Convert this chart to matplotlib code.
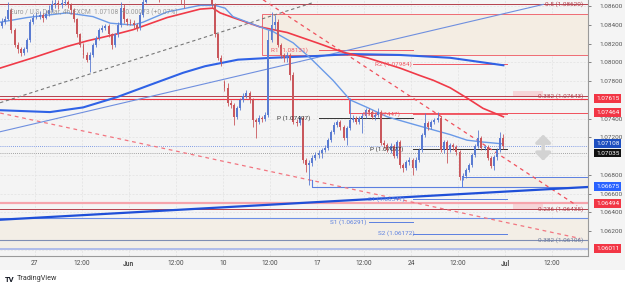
import numpy as np
import matplotlib.pyplot as plt
from matplotlib.patches import Rectangle
import matplotlib.transforms as mtransforms

plt.rcParams['font.family'] = ['Roboto', 'DejaVu Sans']

# EUR/USD 4h candles (bar index = position on the time axis)
opens = [1.0839, 1.0843, 1.0846, 1.0856, 1.0835, 1.0819, 1.0814, 1.0810, 1.0814, 1.0824,
         1.0843, 1.0848, 1.0849, 1.0851, 1.0848, 1.0852, 1.0856, 1.0862, 1.0864, 1.0861,
         1.0863, 1.0865, 1.0861, 1.0856, 1.0846, 1.0830, 1.0819, 1.0808, 1.0803, 1.0808,
         1.0819, 1.0826, 1.0835, 1.0837, 1.0839, 1.0830, 1.0819, 1.0830, 1.0840, 1.0858,
         1.0846, 1.0843, 1.0842, 1.0840, 1.0837, 1.0851, 1.0865, 1.0878, 1.0888, 1.0894,
         1.0891, 1.0883, 1.0888, 1.0899, 1.0904, 1.0899, 1.0894, 1.0888, 1.0878, 1.0872,
         1.0883, 1.0888, 1.0894, 1.0899, 1.0897, 1.0894, 1.0888, 1.0883, 1.0862, 1.0830,
         1.0805, 1.0779, 1.0773, 1.0757, 1.0755, 1.0742, 1.0751, 1.0760, 1.0764, 1.0767,
         1.0760, 1.0739, 1.0736, 1.0741, 1.0740, 1.0744, 1.0824, 1.0840, 1.0843, 1.0819,
         1.0808, 1.0805, 1.0808, 1.0787, 1.0736, 1.0735, 1.0741, 1.0696, 1.0690, 1.0693,
         1.0698, 1.0701, 1.0703, 1.0707, 1.0709, 1.0717, 1.0726, 1.0733, 1.0736, 1.0731,
         1.0719, 1.0730, 1.0739, 1.0741, 1.0736, 1.0741, 1.0743, 1.0749, 1.0747, 1.0742,
         1.0744, 1.0747, 1.0714, 1.0712, 1.0707, 1.0711, 1.0700, 1.0715, 1.0690, 1.0687,
         1.0694, 1.0696, 1.0687, 1.0696, 1.0707, 1.0723, 1.0735, 1.0731, 1.0736, 1.0739,
         1.0741, 1.0707, 1.0715, 1.0707, 1.0712, 1.0710, 1.0704, 1.0678, 1.0679, 1.0685,
         1.0690, 1.0701, 1.0711, 1.0719, 1.0709, 1.0710, 1.0698, 1.0689, 1.0699, 1.0707,
         1.0719]
highs = [1.0848, 1.0850, 1.0865, 1.0858, 1.0837, 1.0822, 1.0816, 1.0816, 1.0826, 1.0846,
         1.0852, 1.0854, 1.0855, 1.0853, 1.0856, 1.0861, 1.0867, 1.0869, 1.0867, 1.0868,
         1.0870, 1.0867, 1.0863, 1.0858, 1.0848, 1.0832, 1.0821, 1.0811, 1.0811, 1.0821,
         1.0828, 1.0837, 1.0840, 1.0841, 1.0841, 1.0832, 1.0832, 1.0843, 1.0865, 1.0862,
         1.0848, 1.0846, 1.0845, 1.0842, 1.0854, 1.0869, 1.0881, 1.0892, 1.0897, 1.0896,
         1.0893, 1.0891, 1.0902, 1.0908, 1.0907, 1.0901, 1.0896, 1.0891, 1.0880, 1.0885,
         1.0892, 1.0897, 1.0902, 1.0901, 1.0899, 1.0896, 1.0891, 1.0885, 1.0864, 1.0832,
         1.0808, 1.0781, 1.0778, 1.0760, 1.0757, 1.0754, 1.0762, 1.0767, 1.0771, 1.0770,
         1.0762, 1.0741, 1.0744, 1.0743, 1.0747, 1.0835, 1.0854, 1.0851, 1.0846, 1.0821,
         1.0810, 1.0811, 1.0810, 1.0790, 1.0740, 1.0743, 1.0743, 1.0698, 1.0696, 1.0701,
         1.0704, 1.0707, 1.0709, 1.0712, 1.0719, 1.0728, 1.0736, 1.0739, 1.0739, 1.0733,
         1.0732, 1.0762, 1.0744, 1.0743, 1.0743, 1.0746, 1.0751, 1.0751, 1.0749, 1.0746,
         1.0751, 1.0749, 1.0717, 1.0714, 1.0714, 1.0713, 1.0717, 1.0717, 1.0693, 1.0696,
         1.0699, 1.0698, 1.0699, 1.0709, 1.0725, 1.0746, 1.0738, 1.0739, 1.0741, 1.0747,
         1.0743, 1.0717, 1.0717, 1.0714, 1.0714, 1.0712, 1.0707, 1.0682, 1.0687, 1.0693,
         1.0703, 1.0713, 1.0728, 1.0721, 1.0712, 1.0712, 1.0700, 1.0701, 1.0709, 1.0726,
         1.0724]
lows = [1.0837, 1.0841, 1.0845, 1.0832, 1.0817, 1.0810, 1.0807, 1.0808, 1.0811, 1.0822,
        1.0841, 1.0846, 1.0846, 1.0843, 1.0846, 1.0850, 1.0854, 1.0858, 1.0857, 1.0858,
        1.0861, 1.0858, 1.0852, 1.0843, 1.0827, 1.0816, 1.0805, 1.0800, 1.0790, 1.0806,
        1.0817, 1.0824, 1.0833, 1.0835, 1.0827, 1.0814, 1.0817, 1.0827, 1.0838, 1.0842,
        1.0840, 1.0840, 1.0837, 1.0834, 1.0835, 1.0849, 1.0863, 1.0876, 1.0886, 1.0888,
        1.0865, 1.0880, 1.0886, 1.0897, 1.0897, 1.0891, 1.0885, 1.0862, 1.0858, 1.0870,
        1.0880, 1.0886, 1.0891, 1.0894, 1.0891, 1.0886, 1.0880, 1.0858, 1.0827, 1.0803,
        1.0796, 1.0769, 1.0754, 1.0751, 1.0733, 1.0740, 1.0749, 1.0758, 1.0762, 1.0757,
        1.0731, 1.0719, 1.0734, 1.0736, 1.0738, 1.0742, 1.0822, 1.0835, 1.0816, 1.0805,
        1.0801, 1.0800, 1.0781, 1.0734, 1.0732, 1.0733, 1.0693, 1.0683, 1.0669, 1.0689,
        1.0696, 1.0698, 1.0698, 1.0704, 1.0707, 1.0715, 1.0724, 1.0731, 1.0728, 1.0717,
        1.0712, 1.0728, 1.0736, 1.0734, 1.0734, 1.0725, 1.0741, 1.0744, 1.0740, 1.0739,
        1.0742, 1.0712, 1.0709, 1.0704, 1.0703, 1.0698, 1.0698, 1.0687, 1.0683, 1.0685,
        1.0690, 1.0680, 1.0685, 1.0694, 1.0704, 1.0720, 1.0728, 1.0729, 1.0734, 1.0736,
        1.0704, 1.0703, 1.0693, 1.0704, 1.0707, 1.0701, 1.0674, 1.0674, 1.0677, 1.0683,
        1.0688, 1.0699, 1.0709, 1.0707, 1.0707, 1.0696, 1.0687, 1.0685, 1.0696, 1.0704,
        1.0708]
closes = [1.0843, 1.0846, 1.0856, 1.0835, 1.0819, 1.0814, 1.0810, 1.0814, 1.0824, 1.0843,
          1.0848, 1.0849, 1.0851, 1.0848, 1.0852, 1.0856, 1.0862, 1.0864, 1.0861, 1.0863,
          1.0865, 1.0861, 1.0856, 1.0846, 1.0830, 1.0819, 1.0808, 1.0803, 1.0808, 1.0819,
          1.0826, 1.0835, 1.0837, 1.0839, 1.0830, 1.0819, 1.0830, 1.0840, 1.0858, 1.0846,
          1.0843, 1.0842, 1.0840, 1.0837, 1.0851, 1.0865, 1.0878, 1.0888, 1.0894, 1.0891,
          1.0883, 1.0888, 1.0899, 1.0904, 1.0899, 1.0894, 1.0888, 1.0878, 1.0872, 1.0883,
          1.0888, 1.0894, 1.0899, 1.0897, 1.0894, 1.0888, 1.0883, 1.0862, 1.0830, 1.0805,
          1.0800, 1.0773, 1.0757, 1.0755, 1.0742, 1.0751, 1.0760, 1.0764, 1.0767, 1.0760,
          1.0739, 1.0736, 1.0741, 1.0740, 1.0744, 1.0824, 1.0840, 1.0843, 1.0819, 1.0808,
          1.0805, 1.0808, 1.0787, 1.0736, 1.0735, 1.0741, 1.0696, 1.0690, 1.0693, 1.0698,
          1.0701, 1.0703, 1.0707, 1.0709, 1.0717, 1.0726, 1.0733, 1.0736, 1.0731, 1.0719,
          1.0730, 1.0739, 1.0741, 1.0736, 1.0741, 1.0743, 1.0749, 1.0747, 1.0742, 1.0744,
          1.0747, 1.0714, 1.0712, 1.0707, 1.0711, 1.0700, 1.0715, 1.0690, 1.0687, 1.0694,
          1.0696, 1.0687, 1.0696, 1.0707, 1.0723, 1.0735, 1.0731, 1.0736, 1.0739, 1.0741,
          1.0707, 1.0715, 1.0707, 1.0712, 1.0710, 1.0704, 1.0678, 1.0679, 1.0685, 1.0690,
          1.0701, 1.0711, 1.0719, 1.0709, 1.0710, 1.0698, 1.0689, 1.0699, 1.0707, 1.0719,
          1.07108]

# time axis
tick_bars = [10.5, 25.5, 40.5, 55.5, 70.5, 85.5, 100.5, 115.5, 130.5, 145.5, 160.5, 175.5]
tick_labels = ["27", "12:00", "Jun", "12:00", "10", "12:00", "17", "12:00", "24", "12:00", "Jul", "12:00"]
price_ticks = [1.086, 1.084, 1.082, 1.080, 1.078, 1.074, 1.072, 1.068, 1.066, 1.064, 1.062]

# moving averages, read at sample bars
ma_fast_x = [-0.6, 8.0, 20.7, 29.0, 34.5, 41.8, 45.0, 52.7, 63.2, 68.0, 71.2, 73.7, 82.3,
             86.5, 92.9, 98.3, 105.6, 111.1, 116.5, 122.9, 130.2, 137.6, 143.0, 148.4, 153.5, 160.0]
ma_fast_y = [1.0843, 1.0848, 1.0853, 1.0849, 1.0842, 1.0840, 1.0843, 1.0854, 1.0861, 1.0861,
             1.0858, 1.0849, 1.0838, 1.0833, 1.0821, 1.0805, 1.0781, 1.0760, 1.0752, 1.0742,
             1.0735, 1.0728, 1.0723, 1.0717, 1.0715, 1.0713]
ma_mid_x = [-0.6, 9.9, 20.7, 27.1, 36.1, 41.8, 52.7, 63.2, 67.3, 69.6, 73.7, 82.3, 91.0,
            100.5, 108.8, 116.5, 127.0, 133.4, 137.6, 143.0, 148.4, 153.5, 160.0]
ma_mid_y = [1.0794, 1.0805, 1.0817, 1.0823, 1.0830, 1.0835, 1.0848, 1.0857, 1.0858, 1.0853,
            1.0848, 1.0838, 1.0832, 1.0821, 1.0811, 1.0805, 1.0794, 1.0786, 1.0781, 1.0773,
            1.0762, 1.0751, 1.0742]
ma_slow_x = [-0.6, 15.3, 25.9, 36.7, 47.2, 57.8, 64.8, 75.3, 86.2, 100.9, 111.1, 127.0, 143.0, 160.0]
ma_slow_y = [1.0749, 1.0747, 1.0752, 1.0763, 1.0776, 1.0789, 1.0796, 1.0803, 1.0805, 1.0807,
             1.0809, 1.0808, 1.0805, 1.0797]

# drawn trend lines (bar, price) end points
trend_blue = ([-0.6, 172.7], [1.0726, 1.0862])
trend_gray = ([-0.6, 99.3], [1.0757, 1.0864])
trend_red1 = ([-0.6, 184.5], [1.0746, 1.0612])
trend_red2 = ([83.3, 183.5], [1.0867, 1.0647])
trend_navy = ([-0.6, 187.0], [1.0632, 1.0667])

# fibonacci levels
fib_levels = [1.08620, 1.07643, 1.06435]
fib_names = ["0.5", "0.382", "0.236"]
fib2_level = 1.06106

# weekly pivots: (start bar, end bar, name, price)
pivots = [(101, 131, "R1", 1.08131), (101, 131, "P", 1.07407), (117, 131, "S1", 1.06291),
          (131, 161, "R2", 1.07984), (131, 161, "R1", 1.07447), (131, 161, "P", 1.07077),
          (131, 161, "S1", 1.06541), (131, 161, "S2", 1.06172)]
pivot_label_bar = [97.7, 98.3, 116.2, 130.9, 127.0, 128.0, 128.6, 131.8]

last_price = 1.07108
prev_price = 1.07035

XMIN, XMAX = -0.64, 187.0
YMIN, YMAX = 1.059328, 1.086673

fig = plt.figure(figsize=(6.25, 2.88), dpi=100)
fig.patches.append(Rectangle((0, 18 / 288), 1, 270 / 288, transform=fig.transFigure,
                             facecolor='#f4f4f4', edgecolor='none', zorder=-10))
ax = fig.add_axes([0, 32 / 288, 588 / 625, 256 / 288])
ax.set_facecolor('#f4f4f4')
ax.set_xlim(XMIN, XMAX)
ax.set_ylim(YMIN, YMAX)

# grid
for t in tick_bars:
    ax.axvline(t, color='#e2e2e2', lw=0.5, ls=(0, (3, 2)), zorder=0)
for p in np.arange(1.060, 1.0870, 0.002):
    ax.axhline(p, color='#e2e2e2', lw=0.5, ls=(0, (3, 2)), zorder=0)

# zones
ax.add_patch(Rectangle((83.0, 1.0808), XMAX - 83.0, 1.0852 - 1.0808, facecolor='#f4ede3',
                       edgecolor='#ef6b74', lw=0.7, zorder=1))
ax.add_patch(Rectangle((XMIN, 1.0601), XMAX - XMIN, 1.0634 - 1.0601, facecolor='#f3eee6',
                       edgecolor='none', zorder=1))
ax.axhline(1.0634, color='#6d8fe6', lw=0.8, zorder=2)
ax.add_patch(Rectangle((146.8, 1.06675), XMAX - 146.8, 1.0678 - 1.06675, facecolor='#f3eee6',
                       edgecolor='#5b7fe0', lw=0.7, zorder=2))
ax.plot([99.0, 99.0, XMAX], [1.0674, 1.06675, 1.06675], color='#5b7fe0', lw=0.8, zorder=2)

# horizontal levels
for lvl in fib_levels:
    ax.axhline(lvl, color='#b5404c', lw=0.7, zorder=2)
ax.axhline(fib2_level, color='#7f8db3', lw=0.8, zorder=2)
ax.axhline(1.07615, color='#f23645', lw=0.8, zorder=2)
ax.axhline(1.06494, color='#f6a4ac', lw=1.6, zorder=2)
ax.axhline(1.06011, color='#aab8ea', lw=1.3, zorder=2)
ax.plot([110.8, 110.8, XMAX], [1.0761, 1.07464, 1.07464], color='#f0505c', lw=0.7, zorder=2)
ax.axhline(last_price, color='#5b7fe0', lw=0.6, ls=(0, (1, 1.5)), zorder=2)
ax.axhline(prev_price, color='#888888', lw=0.6, ls=(0, (1, 1.5)), zorder=2)

# fib labels with pink highlight
for lvl, name in zip(fib_levels, fib_names):
    ax.text(185.5, lvl, f"{name} ({lvl:.5f})", ha='right', va='center', fontsize=4.6,
            color='#b5404c', zorder=6)
for lvl in [1.07643, 1.06435]:
    ax.add_patch(Rectangle((163.0, lvl - 0.00004), 9.5, 0.0006, facecolor='#f7c9cd',
                           edgecolor='none', alpha=0.7, zorder=1))
ax.text(185.5, fib2_level, f"0.382 ({fib2_level:.5f})", ha='right', va='center',
        fontsize=4.6, color='#6b7898', zorder=6)

# pivots
piv_col = {"R": '#f05a66', "P": '#333333', "S": '#5b7fe0'}
for (b0, b1, name, p), lb in zip(pivots, pivot_label_bar):
    c = piv_col[name[0]]
    ax.plot([b0, b1], [p, p], color=c, lw=0.7, zorder=3)
    ax.text(lb, p, f"{name} ({p:.5f})", ha='right', va='center', fontsize=4.6, color=c, zorder=6)

# trend lines
ax.plot(*trend_blue, color='#6f8fdf', lw=0.8, zorder=3)
ax.plot(*trend_gray, color='#777777', lw=0.8, ls=(0, (3, 2.5)), zorder=3)
ax.plot(*trend_red1, color='#f27580', lw=0.9, ls=(0, (3, 3)), zorder=3)
ax.plot(*trend_red2, color='#f0505c', lw=0.9, ls=(0, (3, 3)), zorder=3)
ax.plot(*trend_navy, color='#1f4fd8', lw=1.6, zorder=3)

# moving averages
ax.plot(ma_slow_x, ma_slow_y, color='#2f62e6', lw=1.5, zorder=4)
ax.plot(ma_mid_x, ma_mid_y, color='#f03a48', lw=1.2, zorder=4)
ax.plot(ma_fast_x, ma_fast_y, color='#6a9ae8', lw=1.0, zorder=4)

# candles
o = np.array(opens)
c = np.array(closes)
bars = np.arange(len(o))
up = c >= o
cols = np.where(up, '#5a7bd1', '#c9575c')
ax.vlines(bars, lows, highs, colors=cols, lw=0.6, zorder=5)
body = np.maximum(np.abs(c - o), 0.00006)
ax.bar(bars, body, bottom=np.minimum(o, c), width=0.62, color=cols, zorder=5, lw=0)

# double arrow marker
ax.annotate('', xy=(172.7, 1.0726), xytext=(172.7, 1.0692),
            arrowprops=dict(arrowstyle='<|-|>,head_width=0.45,head_length=0.45',
                            color='#d3d3d3', lw=2.5), zorder=6)

# header text
ax.text(10 / 588, 1 - 12 / 256, "Euro / U.S. Dollar, 4h, FXCM  1.07108  +0.00073 (+0.07%)",
        transform=ax.transAxes, fontsize=4.8, color='#8a8a8a', alpha=0.85, va='center', zorder=7)

# axes styling
for s in ['top', 'left']:
    ax.spines[s].set_visible(False)
for s in ['bottom', 'right']:
    ax.spines[s].set_color('#9a9a9a')
    ax.spines[s].set_linewidth(0.8)
ax.set_xticks(tick_bars, tick_labels)
ax.tick_params(axis='x', length=0, pad=3, labelsize=4.8, colors='#4a4a4a')
for lab in ax.get_xticklabels():
    if lab.get_text() in ("Jun", "Jul"):
        lab.set_fontweight('bold')
ax.yaxis.tick_right()
ax.set_yticks(price_ticks, [f"{p:.5f}" for p in price_ticks])
ax.tick_params(axis='y', length=2, width=0.5, pad=6, labelsize=4.6, colors='#555555')

# price axis labels
tr = mtransforms.blended_transform_factory(ax.transAxes, ax.transData)
axis_boxes = [(1.07615, 1.07615, '#f23645', 'white'), (1.07464, 1.07464, '#f23645', 'white'),
              (1.07108, 1.07135, '#1e4fc0', 'white'), (1.07035, 1.07032, '#111111', 'white'),
              (1.06675, 1.06675, '#2962ff', 'white'), (1.06494, 1.06494, '#f23645', 'white'),
              (1.06011, 1.06011, '#f23645', 'white')]
for val, ypos, fc, tc in axis_boxes:
    ax.text(1.0135, ypos, f"{val:.5f}", transform=tr, fontsize=4.6, color=tc, va='center',
            ha='left', zorder=8, clip_on=False,
            bbox=dict(boxstyle='square,pad=0.28', fc=fc, ec='none'))

# footer
fig.text(5 / 625, 1 - 279 / 288, "TV", fontsize=5.5, fontweight='bold', color='#131722', va='center')
fig.text(17 / 625, 1 - 279 / 288, "TradingView", fontsize=5.2, color='#333333', va='center')

fig.savefig("out.png", dpi=100, facecolor='white')
